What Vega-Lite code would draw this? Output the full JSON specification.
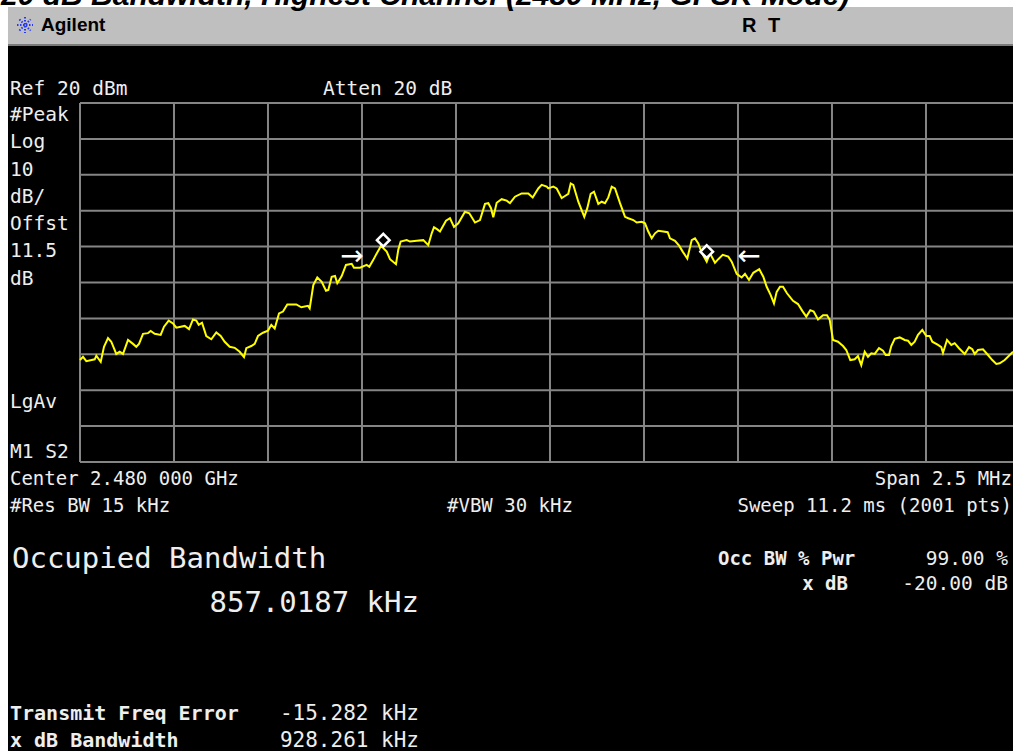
{
"$schema": "https://vega.github.io/schema/vega-lite/v6.json",
"width": 933, "height": 359,
"autosize": {"type": "none"},
"padding": {"left": 80, "top": 103, "right": 0, "bottom": 289},
"background": "black",
"usermeta": {"embedOptions": {"actions": false}},
"config": {"view": {"stroke": null}},
"datasets": {
"trace": [
{"f":2478.7500,"dbm":-51.6},{"f":2478.7580,"dbm":-50.7},{"f":2478.7668,"dbm":-51.9},{"f":2478.7891,"dbm":-51.4},{"f":2478.7934,"dbm":-50.4},{"f":2478.8051,"dbm":-52.1},{"f":2478.8138,"dbm":-47.9},{"f":2478.8245,"dbm":-45.5},{"f":2478.8332,"dbm":-46.5},{"f":2478.8465,"dbm":-49.9},
{"f":2478.8556,"dbm":-49.3},{"f":2478.8644,"dbm":-49.9},{"f":2478.8777,"dbm":-46.0},{"f":2478.8910,"dbm":-47.1},{"f":2478.8997,"dbm":-47.9},{"f":2478.9069,"dbm":-47.1},{"f":2478.9176,"dbm":-44.3},{"f":2478.9309,"dbm":-44.1},{"f":2478.9380,"dbm":-43.5},{"f":2478.9487,"dbm":-44.3},
{"f":2478.9646,"dbm":-44.6},{"f":2478.9734,"dbm":-42.3},{"f":2478.9859,"dbm":-40.6},{"f":2478.9973,"dbm":-41.4},{"f":2479.0061,"dbm":-42.6},{"f":2479.0285,"dbm":-42.1},{"f":2479.0399,"dbm":-43.0},{"f":2479.0505,"dbm":-40.3},{"f":2479.0593,"dbm":-40.6},{"f":2479.0657,"dbm":-41.8},
{"f":2479.0745,"dbm":-41.2},{"f":2479.0859,"dbm":-44.9},{"f":2479.0992,"dbm":-45.8},{"f":2479.1125,"dbm":-43.9},{"f":2479.1242,"dbm":-44.9},{"f":2479.1348,"dbm":-46.5},{"f":2479.1481,"dbm":-47.9},{"f":2479.1614,"dbm":-48.2},{"f":2479.1747,"dbm":-49.3},{"f":2479.1862,"dbm":-50.8},
{"f":2479.1923,"dbm":-48.3},{"f":2479.2056,"dbm":-47.7},{"f":2479.2146,"dbm":-47.1},{"f":2479.2234,"dbm":-44.9},{"f":2479.2367,"dbm":-44.0},{"f":2479.2500,"dbm":-43.4},{"f":2479.2588,"dbm":-41.8},{"f":2479.2678,"dbm":-42.8},{"f":2479.2793,"dbm":-38.6},{"f":2479.2899,"dbm":-38.1},
{"f":2479.3013,"dbm":-36.1},{"f":2479.3253,"dbm":-36.1},{"f":2479.3386,"dbm":-36.9},{"f":2479.3564,"dbm":-36.5},{"f":2479.3609,"dbm":-37.2},{"f":2479.3705,"dbm":-30.7},{"f":2479.3811,"dbm":-28.6},{"f":2479.3928,"dbm":-29.8},{"f":2479.4043,"dbm":-32.3},{"f":2479.4104,"dbm":-32.1},
{"f":2479.4194,"dbm":-28.4},{"f":2479.4282,"dbm":-28.2},{"f":2479.4343,"dbm":-30.2},{"f":2479.4460,"dbm":-28.2},{"f":2479.4574,"dbm":-25.1},{"f":2479.4726,"dbm":-24.8},{"f":2479.4787,"dbm":-25.9},{"f":2479.4947,"dbm":-25.9},{"f":2479.5125,"dbm":-25.1},{"f":2479.5194,"dbm":-25.6},
{"f":2479.5301,"dbm":-23.7},{"f":2479.5391,"dbm":-21.9},{"f":2479.5505,"dbm":-19.8},{"f":2479.5657,"dbm":-21.4},{"f":2479.5745,"dbm":-23.5},{"f":2479.5904,"dbm":-24.9},{"f":2479.5965,"dbm":-20.9},{"f":2479.6029,"dbm":-18.6},{"f":2479.6189,"dbm":-18.2},{"f":2479.6277,"dbm":-18.6},
{"f":2479.6455,"dbm":-18.4},{"f":2479.6630,"dbm":-18.2},{"f":2479.6763,"dbm":-19.6},{"f":2479.6854,"dbm":-16.3},{"f":2479.6915,"dbm":-14.6},{"f":2479.7003,"dbm":-15.2},{"f":2479.7074,"dbm":-15.8},{"f":2479.7234,"dbm":-12.8},{"f":2479.7340,"dbm":-12.1},{"f":2479.7447,"dbm":-14.5},
{"f":2479.7561,"dbm":-13.5},{"f":2479.7739,"dbm":-10.3},{"f":2479.7854,"dbm":-10.7},{"f":2479.8005,"dbm":-13.3},{"f":2479.8138,"dbm":-12.6},{"f":2479.8271,"dbm":-8.1},{"f":2479.8359,"dbm":-7.9},{"f":2479.8431,"dbm":-9.3},{"f":2479.8492,"dbm":-11.8},{"f":2479.8582,"dbm":-7.8},
{"f":2479.8715,"dbm":-6.8},{"f":2479.8848,"dbm":-7.2},{"f":2479.8936,"dbm":-7.9},{"f":2479.9069,"dbm":-6.1},{"f":2479.9247,"dbm":-5.2},{"f":2479.9423,"dbm":-5.2},{"f":2479.9540,"dbm":-6.3},{"f":2479.9689,"dbm":-3.8},{"f":2479.9779,"dbm":-2.8},{"f":2479.9912,"dbm":-3.3},
{"f":2479.9955,"dbm":-3.8},{"f":2480.0088,"dbm":-3.3},{"f":2480.0178,"dbm":-3.8},{"f":2480.0311,"dbm":-6.5},{"f":2480.0399,"dbm":-5.9},{"f":2480.0487,"dbm":-5.3},{"f":2480.0551,"dbm":-2.4},{"f":2480.0620,"dbm":-2.8},{"f":2480.0753,"dbm":-7.5},{"f":2480.0912,"dbm":-11.7},
{"f":2480.0992,"dbm":-9.3},{"f":2480.1082,"dbm":-5.3},{"f":2480.1170,"dbm":-4.7},{"f":2480.1285,"dbm":-8.1},{"f":2480.1375,"dbm":-7.5},{"f":2480.1463,"dbm":-7.9},{"f":2480.1551,"dbm":-6.3},{"f":2480.1641,"dbm":-3.3},{"f":2480.1729,"dbm":-3.8},{"f":2480.1862,"dbm":-7.9},
{"f":2480.1995,"dbm":-11.7},{"f":2480.2082,"dbm":-12.1},{"f":2480.2215,"dbm":-12.6},{"f":2480.2306,"dbm":-13.3},{"f":2480.2439,"dbm":-13.1},{"f":2480.2527,"dbm":-13.5},{"f":2480.2614,"dbm":-15.8},{"f":2480.2705,"dbm":-17.7},{"f":2480.2793,"dbm":-16.3},{"f":2480.2880,"dbm":-15.6},
{"f":2480.3013,"dbm":-15.8},{"f":2480.3130,"dbm":-16.0},{"f":2480.3191,"dbm":-17.7},{"f":2480.3324,"dbm":-18.4},{"f":2480.3439,"dbm":-19.8},{"f":2480.3529,"dbm":-21.4},{"f":2480.3652,"dbm":-23.3},{"f":2480.3769,"dbm":-18.2},{"f":2480.3856,"dbm":-17.7},{"f":2480.3944,"dbm":-19.1},
{"f":2480.4035,"dbm":-21.7},{"f":2480.4168,"dbm":-24.2},{"f":2480.4255,"dbm":-21.9},{"f":2480.4388,"dbm":-24.5},{"f":2480.4476,"dbm":-23.5},{"f":2480.4593,"dbm":-22.3},{"f":2480.4742,"dbm":-22.8},{"f":2480.4832,"dbm":-24.2},{"f":2480.4965,"dbm":-27.6},{"f":2480.5098,"dbm":-28.6},
{"f":2480.5186,"dbm":-27.6},{"f":2480.5293,"dbm":-29.3},{"f":2480.5407,"dbm":-27.3},{"f":2480.5566,"dbm":-26.3},{"f":2480.5673,"dbm":-28.4},{"f":2480.5763,"dbm":-31.2},{"f":2480.5870,"dbm":-33.5},{"f":2480.5957,"dbm":-35.8},{"f":2480.6029,"dbm":-32.6},{"f":2480.6117,"dbm":-31.2},
{"f":2480.6197,"dbm":-31.2},{"f":2480.6303,"dbm":-33.0},{"f":2480.6463,"dbm":-35.1},{"f":2480.6596,"dbm":-36.0},{"f":2480.6710,"dbm":-37.9},{"f":2480.6816,"dbm":-39.5},{"f":2480.6923,"dbm":-37.7},{"f":2480.7013,"dbm":-38.1},{"f":2480.7128,"dbm":-40.3},{"f":2480.7261,"dbm":-39.1},
{"f":2480.7367,"dbm":-39.1},{"f":2480.7439,"dbm":-40.4},{"f":2480.7527,"dbm":-46.0},{"f":2480.7660,"dbm":-46.5},{"f":2480.7793,"dbm":-47.7},{"f":2480.7880,"dbm":-48.8},{"f":2480.7987,"dbm":-51.6},{"f":2480.8104,"dbm":-51.4},{"f":2480.8191,"dbm":-50.5},{"f":2480.8279,"dbm":-53.0},
{"f":2480.8370,"dbm":-49.3},{"f":2480.8457,"dbm":-50.7},{"f":2480.8545,"dbm":-49.7},{"f":2480.8636,"dbm":-49.9},{"f":2480.8750,"dbm":-48.3},{"f":2480.8856,"dbm":-49.0},{"f":2480.8928,"dbm":-50.2},{"f":2480.9016,"dbm":-50.2},{"f":2480.9077,"dbm":-47.7},{"f":2480.9168,"dbm":-45.7},
{"f":2480.9301,"dbm":-45.3},{"f":2480.9434,"dbm":-46.0},{"f":2480.9521,"dbm":-46.2},{"f":2480.9609,"dbm":-47.4},{"f":2480.9699,"dbm":-46.5},{"f":2480.9787,"dbm":-44.6},{"f":2480.9902,"dbm":-43.2},{"f":2481.0008,"dbm":-44.9},{"f":2481.0098,"dbm":-44.9},{"f":2481.0168,"dbm":-46.5},
{"f":2481.0319,"dbm":-47.4},{"f":2481.0407,"dbm":-48.0},{"f":2481.0452,"dbm":-49.6},{"f":2481.0559,"dbm":-46.0},{"f":2481.0673,"dbm":-47.4},{"f":2481.0763,"dbm":-46.9},{"f":2481.0878,"dbm":-48.3},{"f":2481.1029,"dbm":-49.9},{"f":2481.1144,"dbm":-48.0},{"f":2481.1231,"dbm":-48.6},
{"f":2481.1295,"dbm":-49.9},{"f":2481.1383,"dbm":-48.8},{"f":2481.1516,"dbm":-48.6},{"f":2481.1649,"dbm":-50.2},{"f":2481.1763,"dbm":-51.6},{"f":2481.1870,"dbm":-52.7},{"f":2481.1960,"dbm":-52.5},{"f":2481.2093,"dbm":-51.6},{"f":2481.2181,"dbm":-50.7},{"f":2481.2314,"dbm":-49.3}
],
"markers": [{"marker":"1","f":2479.5566,"dbm":-18.2},{"marker":"2","f":2480.4168,"dbm":-21.4}],
"vgrid": [{"f":2478.75},{"f":2479.0},{"f":2479.25},{"f":2479.5},{"f":2479.75},{"f":2480.0},{"f":2480.25},{"f":2480.5},{"f":2480.75},{"f":2481.0}],
"hgrid": [{"dbm":20},{"dbm":10},{"dbm":0},{"dbm":-10},{"dbm":-20},{"dbm":-30},{"dbm":-40},{"dbm":-50},{"dbm":-60},{"dbm":-70},{"dbm":-80}]
},
"layer": [
{"data":{"values":[{"region":"top margin"}]},"mark":{"type":"rect","color":"white"},
 "encoding":{"x":{"datum":2478.4,"type":"quantitative","scale":{"domain":[2478.75,2481.2314],"nice":false,"zero":false},"axis":null},"x2":{"datum":2481.4},
 "y":{"datum":50,"type":"quantitative","scale":{"domain":[-80,20],"nice":false,"zero":false},"axis":null},"y2":{"datum":46.74}}},
{"data":{"values":[{"region":"left margin"}]},"mark":{"type":"rect","color":"white"},
 "encoding":{"x":{"datum":2478.4,"type":"quantitative","scale":{"domain":[2478.75,2481.2314],"nice":false,"zero":false},"axis":null},"x2":{"datum":2478.5585},
 "y":{"datum":50,"type":"quantitative","scale":{"domain":[-80,20],"nice":false,"zero":false},"axis":null},"y2":{"datum":-170}}},
{"data":{"values":[{"region":"header bar"}]},"mark":{"type":"rect","color":"#bfbfbf"},
 "encoding":{"x":{"datum":2478.5585,"type":"quantitative","scale":{"domain":[2478.75,2481.2314],"nice":false,"zero":false},"axis":null},"x2":{"datum":2481.4},
 "y":{"datum":46.74,"type":"quantitative","scale":{"domain":[-80,20],"nice":false,"zero":false},"axis":null},"y2":{"datum":36.43}}},
{"data":{"values":[{"region":"header line"}]},"mark":{"type":"rect","color":"#7a7a7a"},
 "encoding":{"x":{"datum":2478.5585,"type":"quantitative","scale":{"domain":[2478.75,2481.2314],"nice":false,"zero":false},"axis":null},"x2":{"datum":2481.4},
 "y":{"datum":36.43,"type":"quantitative","scale":{"domain":[-80,20],"nice":false,"zero":false},"axis":null},"y2":{"datum":35.9}}},
{"data":{"values":[{"label":"20 dB Bandwidth, Highest Channel (2480 MHz, GFSK Mode)"}]},
 "mark":{"type":"text","font":"Liberation Sans","fontSize":30,"fontWeight":"bold","fontStyle":"italic","color":"black","align":"left","baseline":"alphabetic"},
 "encoding":{"text":{"field":"label"},"x":{"datum":2478.5399,"type":"quantitative","scale":{"domain":[2478.75,2481.2314],"nice":false,"zero":false},"axis":null},
 "y":{"datum":47.16,"type":"quantitative","scale":{"domain":[-80,20],"nice":false,"zero":false},"axis":null}}},
{"data":{"values":[{"logo":"Agilent spark"}]},
 "mark":{"type":"point","shape":"M-1,0L1,0M0,-1L0,1M-0.7,-0.7L0.7,0.7M-0.7,0.7L0.7,-0.7","size":256,"filled":false,"stroke":"#2838f0","strokeWidth":2,"strokeDash":[1.5,1.5],"opacity":1},
 "encoding":{"x":{"datum":2478.6037,"type":"quantitative","scale":{"domain":[2478.75,2481.2314],"nice":false,"zero":false},"axis":null},
 "y":{"datum":41.73,"type":"quantitative","scale":{"domain":[-80,20],"nice":false,"zero":false},"axis":null}}},
{"data":{"values":[{"label":"Agilent"}]},
 "mark":{"type":"text","font":"Liberation Sans","fontSize":19,"fontWeight":"bold","color":"black","align":"left","baseline":"alphabetic"},
 "encoding":{"text":{"field":"label"},"x":{"datum":2478.6463,"type":"quantitative","scale":{"domain":[2478.75,2481.2314],"nice":false,"zero":false},"axis":null},
 "y":{"datum":40.06,"type":"quantitative","scale":{"domain":[-80,20],"nice":false,"zero":false},"axis":null}}},
{"data":{"values":[{"label":"R"}]},
 "mark":{"type":"text","font":"Liberation Sans","fontSize":20,"fontWeight":"bold","color":"black","align":"left","baseline":"alphabetic"},
 "encoding":{"text":{"field":"label"},"x":{"datum":2480.5106,"type":"quantitative","scale":{"domain":[2478.75,2481.2314],"nice":false,"zero":false},"axis":null},
 "y":{"datum":39.78,"type":"quantitative","scale":{"domain":[-80,20],"nice":false,"zero":false},"axis":null}}},
{"data":{"values":[{"label":"T"}]},
 "mark":{"type":"text","font":"Liberation Sans","fontSize":20,"fontWeight":"bold","color":"black","align":"left","baseline":"alphabetic"},
 "encoding":{"text":{"field":"label"},"x":{"datum":2480.5798,"type":"quantitative","scale":{"domain":[2478.75,2481.2314],"nice":false,"zero":false},"axis":null},
 "y":{"datum":39.78,"type":"quantitative","scale":{"domain":[-80,20],"nice":false,"zero":false},"axis":null}}},
{"data":{"name":"vgrid"},
 "mark":{"type":"rule","color":"#858585","strokeWidth":2},
 "encoding":{"x":{"field":"f","type":"quantitative","scale":{"domain":[2478.75,2481.2314],"nice":false,"zero":false},"axis":null}}},
{"data":{"name":"hgrid"},
 "mark":{"type":"rule","color":"#858585","strokeWidth":2},
 "encoding":{"y":{"field":"dbm","type":"quantitative","scale":{"domain":[-80,20],"nice":false,"zero":false},"axis":null}}},
{"data":{"name":"trace"},
 "mark":{"type":"line","color":"#ffff00","strokeWidth":2},
 "encoding":{
  "x":{"field":"f","type":"quantitative","scale":{"domain":[2478.75,2481.2314],"nice":false,"zero":false},"axis":null},
  "y":{"field":"dbm","type":"quantitative","scale":{"domain":[-80,20],"nice":false,"zero":false},"axis":null}}},
{"data":{"name":"markers"},
 "mark":{"type":"point","shape":"diamond","size":160,"filled":true,"fill":"black","stroke":"white","strokeWidth":2.5,"opacity":1},
 "encoding":{"x":{"field":"f","type":"quantitative","scale":{"domain":[2478.75,2481.2314],"nice":false,"zero":false},"axis":null},
 "y":{"field":"dbm","type":"quantitative","scale":{"domain":[-80,20],"nice":false,"zero":false},"axis":null}}},
{"data":{"values":[{"label":"→"}]},
 "mark":{"type":"text","font":"DejaVu Sans","fontSize":28,"color":"white","align":"center","baseline":"middle"},
 "encoding":{"text":{"field":"label"},"x":{"datum":2479.4734,"type":"quantitative","scale":{"domain":[2478.75,2481.2314],"nice":false,"zero":false},"axis":null},
 "y":{"datum":-22.9,"type":"quantitative","scale":{"domain":[-80,20],"nice":false,"zero":false},"axis":null}}},
{"data":{"values":[{"label":"←"}]},
 "mark":{"type":"text","font":"DejaVu Sans","fontSize":28,"color":"white","align":"center","baseline":"middle"},
 "encoding":{"text":{"field":"label"},"x":{"datum":2480.5293,"type":"quantitative","scale":{"domain":[2478.75,2481.2314],"nice":false,"zero":false},"axis":null},
 "y":{"datum":-22.9,"type":"quantitative","scale":{"domain":[-80,20],"nice":false,"zero":false},"axis":null}}},
{"data":{"values":[{"label":"Ref 20 dBm"}]},
 "mark":{"type":"text","font":"DejaVu Sans Mono","fontSize":19.5,"color":"#eeeeee","align":"left","baseline":"alphabetic"},
 "encoding":{"text":{"field":"label"},"x":{"datum":2478.5638,"type":"quantitative","scale":{"domain":[2478.75,2481.2314],"nice":false,"zero":false},"axis":null},
 "y":{"datum":22.23,"type":"quantitative","scale":{"domain":[-80,20],"nice":false,"zero":false},"axis":null}}},
{"data":{"values":[{"label":"Atten 20 dB"}]},
 "mark":{"type":"text","font":"DejaVu Sans Mono","fontSize":19.5,"color":"#eeeeee","align":"left","baseline":"alphabetic"},
 "encoding":{"text":{"field":"label"},"x":{"datum":2479.3963,"type":"quantitative","scale":{"domain":[2478.75,2481.2314],"nice":false,"zero":false},"axis":null},
 "y":{"datum":22.23,"type":"quantitative","scale":{"domain":[-80,20],"nice":false,"zero":false},"axis":null}}},
{"data":{"values":[{"label":"#Peak\nLog\n10\ndB/\nOffst\n11.5\ndB"}]},
 "mark":{"type":"text","font":"DejaVu Sans Mono","fontSize":19.5,"color":"#eeeeee","align":"left","baseline":"alphabetic","lineBreak":"\n","lineHeight":27.3},
 "encoding":{"text":{"field":"label"},"x":{"datum":2478.5638,"type":"quantitative","scale":{"domain":[2478.75,2481.2314],"nice":false,"zero":false},"axis":null},
 "y":{"datum":14.99,"type":"quantitative","scale":{"domain":[-80,20],"nice":false,"zero":false},"axis":null}}},
{"data":{"values":[{"label":"LgAv"}]},
 "mark":{"type":"text","font":"DejaVu Sans Mono","fontSize":19.5,"color":"#eeeeee","align":"left","baseline":"alphabetic"},
 "encoding":{"text":{"field":"label"},"x":{"datum":2478.5638,"type":"quantitative","scale":{"domain":[2478.75,2481.2314],"nice":false,"zero":false},"axis":null},
 "y":{"datum":-64.96,"type":"quantitative","scale":{"domain":[-80,20],"nice":false,"zero":false},"axis":null}}},
{"data":{"values":[{"label":"M1 S2"}]},
 "mark":{"type":"text","font":"DejaVu Sans Mono","fontSize":19.5,"color":"#eeeeee","align":"left","baseline":"alphabetic"},
 "encoding":{"text":{"field":"label"},"x":{"datum":2478.5638,"type":"quantitative","scale":{"domain":[2478.75,2481.2314],"nice":false,"zero":false},"axis":null},
 "y":{"datum":-78.89,"type":"quantitative","scale":{"domain":[-80,20],"nice":false,"zero":false},"axis":null}}},
{"data":{"values":[{"label":"Center 2.480 000 GHz"}]},
 "mark":{"type":"text","font":"DejaVu Sans Mono","fontSize":19,"color":"#eeeeee","align":"left","baseline":"alphabetic"},
 "encoding":{"text":{"field":"label"},"x":{"datum":2478.5638,"type":"quantitative","scale":{"domain":[2478.75,2481.2314],"nice":false,"zero":false},"axis":null},
 "y":{"datum":-86.41,"type":"quantitative","scale":{"domain":[-80,20],"nice":false,"zero":false},"axis":null}}},
{"data":{"values":[{"label":"Span 2.5 MHz"}]},
 "mark":{"type":"text","font":"DejaVu Sans Mono","fontSize":19,"color":"#eeeeee","align":"right","baseline":"alphabetic"},
 "encoding":{"text":{"field":"label"},"x":{"datum":2481.2287,"type":"quantitative","scale":{"domain":[2478.75,2481.2314],"nice":false,"zero":false},"axis":null},
 "y":{"datum":-86.41,"type":"quantitative","scale":{"domain":[-80,20],"nice":false,"zero":false},"axis":null}}},
{"data":{"values":[{"label":"#Res BW 15 kHz"}]},
 "mark":{"type":"text","font":"DejaVu Sans Mono","fontSize":19,"color":"#eeeeee","align":"left","baseline":"alphabetic"},
 "encoding":{"text":{"field":"label"},"x":{"datum":2478.5638,"type":"quantitative","scale":{"domain":[2478.75,2481.2314],"nice":false,"zero":false},"axis":null},
 "y":{"datum":-93.93,"type":"quantitative","scale":{"domain":[-80,20],"nice":false,"zero":false},"axis":null}}},
{"data":{"values":[{"label":"#VBW 30 kHz"}]},
 "mark":{"type":"text","font":"DejaVu Sans Mono","fontSize":19,"color":"#eeeeee","align":"left","baseline":"alphabetic"},
 "encoding":{"text":{"field":"label"},"x":{"datum":2479.7261,"type":"quantitative","scale":{"domain":[2478.75,2481.2314],"nice":false,"zero":false},"axis":null},
 "y":{"datum":-93.93,"type":"quantitative","scale":{"domain":[-80,20],"nice":false,"zero":false},"axis":null}}},
{"data":{"values":[{"label":"Sweep 11.2 ms (2001 pts)"}]},
 "mark":{"type":"text","font":"DejaVu Sans Mono","fontSize":19,"color":"#eeeeee","align":"right","baseline":"alphabetic"},
 "encoding":{"text":{"field":"label"},"x":{"datum":2481.2287,"type":"quantitative","scale":{"domain":[2478.75,2481.2314],"nice":false,"zero":false},"axis":null},
 "y":{"datum":-93.93,"type":"quantitative","scale":{"domain":[-80,20],"nice":false,"zero":false},"axis":null}}},
{"data":{"values":[{"label":"Occupied Bandwidth"}]},
 "mark":{"type":"text","font":"DejaVu Sans Mono","fontSize":29,"color":"#eeeeee","align":"left","baseline":"alphabetic"},
 "encoding":{"text":{"field":"label"},"x":{"datum":2478.5691,"type":"quantitative","scale":{"domain":[2478.75,2481.2314],"nice":false,"zero":false},"axis":null},
 "y":{"datum":-109.53,"type":"quantitative","scale":{"domain":[-80,20],"nice":false,"zero":false},"axis":null}}},
{"data":{"values":[{"label":"857.0187 kHz"}]},
 "mark":{"type":"text","font":"DejaVu Sans Mono","fontSize":29,"color":"#eeeeee","align":"right","baseline":"alphabetic"},
 "encoding":{"text":{"field":"label"},"x":{"datum":2479.6516,"type":"quantitative","scale":{"domain":[2478.75,2481.2314],"nice":false,"zero":false},"axis":null},
 "y":{"datum":-121.78,"type":"quantitative","scale":{"domain":[-80,20],"nice":false,"zero":false},"axis":null}}},
{"data":{"values":[{"label":"Occ BW % Pwr"}]},
 "mark":{"type":"text","font":"DejaVu Sans Mono","fontSize":19,"fontWeight":"bold","color":"#eeeeee","align":"left","baseline":"alphabetic"},
 "encoding":{"text":{"field":"label"},"x":{"datum":2480.4468,"type":"quantitative","scale":{"domain":[2478.75,2481.2314],"nice":false,"zero":false},"axis":null},
 "y":{"datum":-108.69,"type":"quantitative","scale":{"domain":[-80,20],"nice":false,"zero":false},"axis":null}}},
{"data":{"values":[{"label":"99.00 %"}]},
 "mark":{"type":"text","font":"DejaVu Sans Mono","fontSize":19.5,"color":"#eeeeee","align":"right","baseline":"alphabetic"},
 "encoding":{"text":{"field":"label"},"x":{"datum":2481.2181,"type":"quantitative","scale":{"domain":[2478.75,2481.2314],"nice":false,"zero":false},"axis":null},
 "y":{"datum":-108.69,"type":"quantitative","scale":{"domain":[-80,20],"nice":false,"zero":false},"axis":null}}},
{"data":{"values":[{"label":"x dB"}]},
 "mark":{"type":"text","font":"DejaVu Sans Mono","fontSize":19,"fontWeight":"bold","color":"#eeeeee","align":"right","baseline":"alphabetic"},
 "encoding":{"text":{"field":"label"},"x":{"datum":2480.7926,"type":"quantitative","scale":{"domain":[2478.75,2481.2314],"nice":false,"zero":false},"axis":null},
 "y":{"datum":-115.65,"type":"quantitative","scale":{"domain":[-80,20],"nice":false,"zero":false},"axis":null}}},
{"data":{"values":[{"label":"-20.00 dB"}]},
 "mark":{"type":"text","font":"DejaVu Sans Mono","fontSize":19.5,"color":"#eeeeee","align":"right","baseline":"alphabetic"},
 "encoding":{"text":{"field":"label"},"x":{"datum":2481.2181,"type":"quantitative","scale":{"domain":[2478.75,2481.2314],"nice":false,"zero":false},"axis":null},
 "y":{"datum":-115.65,"type":"quantitative","scale":{"domain":[-80,20],"nice":false,"zero":false},"axis":null}}},
{"data":{"values":[{"label":"Transmit Freq Error"}]},
 "mark":{"type":"text","font":"DejaVu Sans Mono","fontSize":20,"fontWeight":"bold","color":"#eeeeee","align":"left","baseline":"alphabetic"},
 "encoding":{"text":{"field":"label"},"x":{"datum":2478.5638,"type":"quantitative","scale":{"domain":[2478.75,2481.2314],"nice":false,"zero":false},"axis":null},
 "y":{"datum":-151.87,"type":"quantitative","scale":{"domain":[-80,20],"nice":false,"zero":false},"axis":null}}},
{"data":{"values":[{"label":"-15.282 kHz"}]},
 "mark":{"type":"text","font":"DejaVu Sans Mono","fontSize":21,"color":"#eeeeee","align":"right","baseline":"alphabetic"},
 "encoding":{"text":{"field":"label"},"x":{"datum":2479.6516,"type":"quantitative","scale":{"domain":[2478.75,2481.2314],"nice":false,"zero":false},"axis":null},
 "y":{"datum":-151.87,"type":"quantitative","scale":{"domain":[-80,20],"nice":false,"zero":false},"axis":null}}},
{"data":{"values":[{"label":"x dB Bandwidth"}]},
 "mark":{"type":"text","font":"DejaVu Sans Mono","fontSize":20,"fontWeight":"bold","color":"#eeeeee","align":"left","baseline":"alphabetic"},
 "encoding":{"text":{"field":"label"},"x":{"datum":2478.5638,"type":"quantitative","scale":{"domain":[2478.75,2481.2314],"nice":false,"zero":false},"axis":null},
 "y":{"datum":-159.39,"type":"quantitative","scale":{"domain":[-80,20],"nice":false,"zero":false},"axis":null}}},
{"data":{"values":[{"label":"928.261 kHz"}]},
 "mark":{"type":"text","font":"DejaVu Sans Mono","fontSize":21,"color":"#eeeeee","align":"right","baseline":"alphabetic"},
 "encoding":{"text":{"field":"label"},"x":{"datum":2479.6516,"type":"quantitative","scale":{"domain":[2478.75,2481.2314],"nice":false,"zero":false},"axis":null},
 "y":{"datum":-159.39,"type":"quantitative","scale":{"domain":[-80,20],"nice":false,"zero":false},"axis":null}}}
]
}
